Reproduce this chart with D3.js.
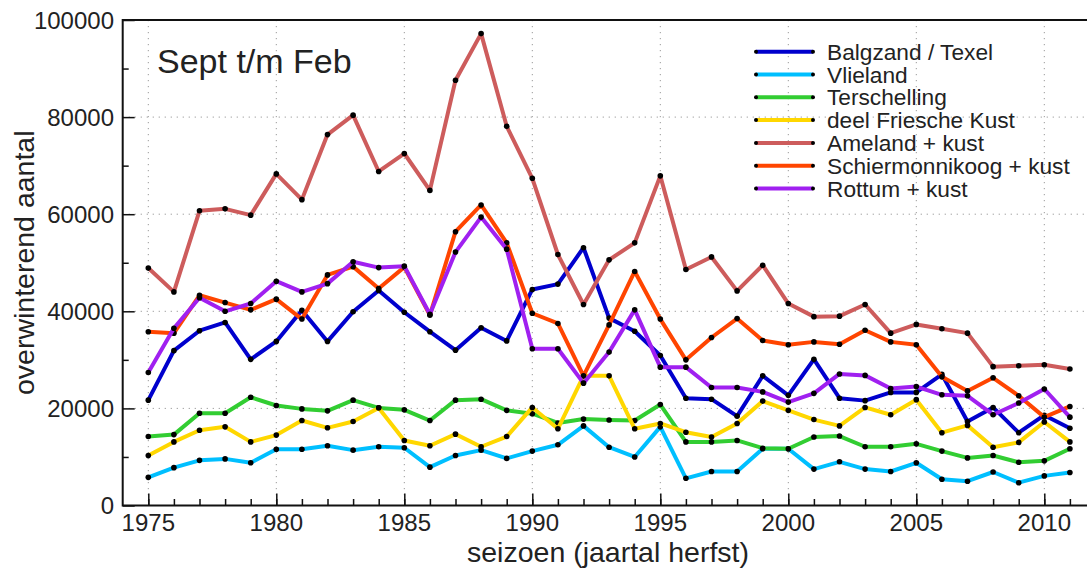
<!DOCTYPE html>
<html>
<head>
<meta charset="utf-8">
<script src="https://cdn.jsdelivr.net/npm/d3@7"></script>
<style>
  body { margin: 0; background: #fff; }
  text { font-family: "Liberation Sans", Arial, Helvetica, sans-serif; fill: #222; }
</style>
</head>
<body>
<script>
// seasons (year of autumn)
var years = d3.range(1975, 2012);

// series names, in legend order
var names = ["Balgzand / Texel", "Vlieland", "Terschelling", "deel Friesche Kust",
  "Ameland + kust", "Schiermonnikoog + kust", "Rottum + kust"];

var balgzand = [21700, 31900, 36000, 37700, 30100, 33800, 40200, 33800, 39900, 44300,
  39800, 35800, 32000, 36600, 33900, 44500, 45600, 53100, 38600, 35900,
  30900, 22100, 21900, 18400, 26700, 22700, 30100, 22100, 21600, 23300,
  23300, 27000, 17300, 20200, 15000, 18600, 15900];
var vlieland = [5800, 7800, 9300, 9600, 8800, 11600, 11600, 12300, 11400, 12100,
  11900, 7900, 10300, 11400, 9700, 11200, 12500, 16400, 12000, 10000,
  16200, 5600, 7000, 7000, 11700, 11700, 7500, 9000, 7500, 7000,
  8800, 5400, 5000, 6900, 4700, 6100, 6800];
var terschelling = [14200, 14600, 19000, 19000, 22300, 20600, 19900, 19500, 21700, 20100,
  19700, 17500, 21700, 21900, 19600, 18900, 17000, 17800, 17600, 17500,
  20800, 13100, 13100, 13400, 11800, 11700, 14100, 14300, 12100, 12100,
  12700, 11200, 9800, 10300, 8900, 9200, 11700];
var friesche = [10300, 13100, 15500, 16200, 13100, 14500, 17500, 16000, 17300, 20100,
  13400, 12300, 14700, 12100, 14200, 20200, 15800, 26700, 26700, 15800,
  16900, 15100, 14100, 16900, 21500, 19600, 17700, 16400, 20200, 18700,
  21800, 15000, 16500, 12000, 13000, 17200, 13100];
var ameland = [48900, 44000, 60700, 61100, 59800, 68300, 63000, 76400, 80400, 68800,
  72500, 64900, 87600, 97200, 78100, 67400, 51700, 41400, 50600, 54100,
  67900, 48600, 51200, 44200, 49500, 41600, 38900, 39000, 41400, 35500,
  37300, 36400, 35500, 28600, 28800, 29000, 28100];
var schier = [35800, 35500, 43300, 41800, 40300, 42500, 38400, 47500, 49200, 44700,
  49100, 39200, 56400, 61900, 54100, 39600, 37500, 26700, 37200, 48200,
  38400, 30000, 34600, 38500, 34000, 33100, 33700, 33200, 36100, 33700,
  33100, 26500, 23600, 26300, 22600, 18200, 20400];
var rottum = [27400, 36500, 42800, 40000, 41600, 46200, 44000, 45700, 50200, 49000,
  49300, 39400, 52200, 59400, 52800, 32300, 32300, 25200, 31600, 40300,
  28500, 28500, 24300, 24300, 23400, 21300, 23100, 27100, 26800, 24100,
  24500, 22800, 22600, 18700, 21100, 24000, 18200];

var colors = ["#0000cd", "#00bfff", "#32cd32", "#ffd700", "#cd5c5c", "#ff4500", "#a020f0"];

// axis ticks
var yTicks = [0, 20000, 40000, 60000, 80000, 100000];
var xTicks = [1975, 1980, 1985, 1990, 1995, 2000, 2005, 2010];

var w = 1087;
var h = 568;

var svg = d3.select("body").append("svg").attr("width", w).attr("height", h);

var plotLeft = 122.7, plotTop = 20, plotBottom = 505.5;

var x = d3.scaleLinear().domain([1974, 2012]).range([plotLeft, plotLeft + 38 * 25.6]);
var y = d3.scaleLinear().domain([0, 100000]).range([plotBottom, plotTop]);

var series = [balgzand, vlieland, terschelling, friesche, ameland, schier, rottum];

//dotted grid at the major ticks
svg.append("g").selectAll("line")
  .data(xTicks)
  .enter()
  .append("line")
  .attr("x1", d => x(d)).attr("x2", d => x(d))
  .attr("y1", plotTop).attr("y2", plotBottom)
  .attr("stroke", "#999")
  .attr("stroke-width", 1)
  .attr("stroke-dasharray", "1.2,4.8");

svg.append("g").selectAll("line")
  .data(yTicks.slice(1, 5))
  .enter()
  .append("line")
  .attr("x1", plotLeft).attr("x2", w)
  .attr("y1", d => y(d)).attr("y2", d => y(d))
  .attr("stroke", "#999")
  .attr("stroke-width", 1)
  .attr("stroke-dasharray", "1.2,4.8");

//axes, ticks pointing inwards
var xMinor = d3.axisTop(x).tickValues(years).tickSize(6.5).tickFormat("");
var xMajor = d3.axisTop(x).tickValues(xTicks).tickSize(12).tickFormat("");
var yMinor = d3.axisRight(y).tickValues(d3.range(10000, 100000, 20000)).tickSize(6).tickFormat("");
var yMajor = d3.axisRight(y).tickValues(yTicks).tickSize(12).tickFormat("");

[svg.append("g").attr("transform", "translate(0," + plotBottom + ")").call(xMinor),
 svg.append("g").attr("transform", "translate(0," + plotBottom + ")").call(xMajor),
 svg.append("g").attr("transform", "translate(" + plotLeft + ",0)").call(yMinor),
 svg.append("g").attr("transform", "translate(" + plotLeft + ",0)").call(yMajor)
].forEach(function (g) {
  g.select(".domain").remove();
  g.selectAll("line").attr("stroke", "#111").attr("stroke-width", 1.5);
});

//frame: left, bottom and top lines
svg.append("path")
  .attr("d", "M" + w + "," + plotTop + "H" + plotLeft + "V" + plotBottom + "H" + w)
  .attr("fill", "none")
  .attr("stroke", "#111")
  .attr("stroke-width", 2);

//tick labels
svg.append("g").selectAll("text")
  .data(xTicks)
  .enter()
  .append("text")
  .attr("x", d => x(d))
  .attr("y", 530.5)
  .attr("text-anchor", "middle")
  .style("font-size", "24px")
  .text(d => d);

svg.append("g").selectAll("text")
  .data(yTicks)
  .enter()
  .append("text")
  .attr("x", 114)
  .attr("y", d => y(d))
  .attr("dy", "0.36em")
  .attr("text-anchor", "end")
  .style("font-size", "24px")
  .text(d => d);

//axis titles
svg.append("text")
  .attr("x", 608).attr("y", 562)
  .attr("text-anchor", "middle")
  .style("font-size", "28.5px")
  .text("seizoen (jaartal herfst)");

svg.append("text")
  .attr("transform", "translate(34," + (plotTop + plotBottom) / 2 + ") rotate(-90)")
  .attr("text-anchor", "middle")
  .style("font-size", "28.5px")
  .text("overwinterend aantal");

svg.append("text")
  .attr("x", 157).attr("y", 73)
  .style("font-size", "34px")
  .text("Sept t/m Feb");

//lines with black dots
var line = d3.line().x((d, i) => x(years[i])).y(d => y(d));

series.forEach(function (values, k) {
  svg.append("path")
    .datum(values)
    .attr("d", line)
    .attr("fill", "none")
    .attr("stroke", colors[k])
    .attr("stroke-width", 4)
    .attr("stroke-linejoin", "round");

  svg.append("g").selectAll("circle")
    .data(values)
    .enter()
    .append("circle")
    .attr("cx", (d, i) => x(years[i]))
    .attr("cy", d => y(d))
    .attr("r", 2.8)
    .attr("fill", "#000");
});

//legend
var legend = svg.append("g").selectAll("g")
  .data(names)
  .enter()
  .append("g")
  .attr("transform", (d, i) => "translate(0," + (51.7 + i * 22.8) + ")");

legend.append("line")
  .attr("x1", 756).attr("x2", 813)
  .attr("stroke", (d, i) => colors[i])
  .attr("stroke-width", 4);

legend.selectAll("circle")
  .data([756, 813])
  .enter()
  .append("circle")
  .attr("cx", d => d)
  .attr("r", 2)
  .attr("fill", "#000");

legend.append("text")
  .attr("x", 827)
  .attr("dy", "0.36em")
  .style("font-size", "22.7px")
  .text(d => d);
</script>
</body>
</html>
